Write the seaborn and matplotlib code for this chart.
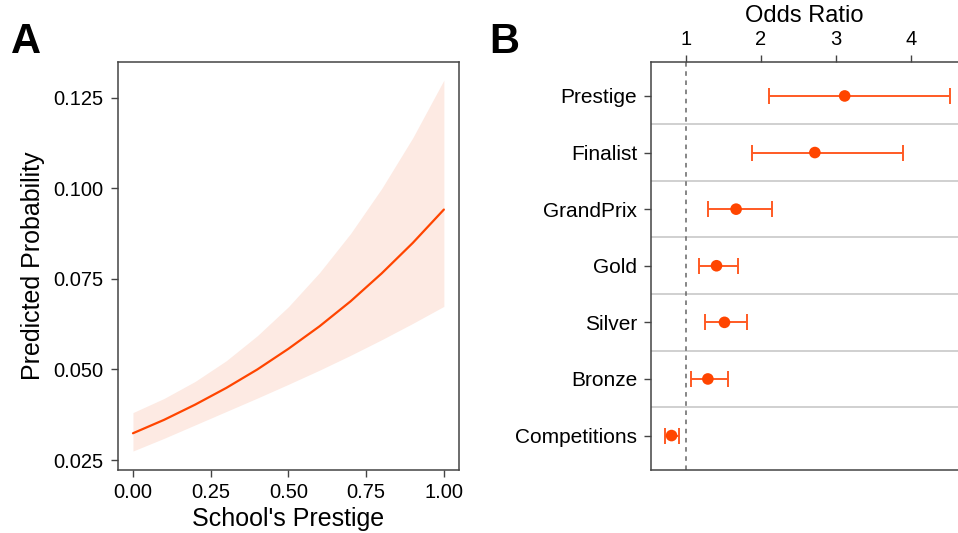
import numpy as np
import pandas as pd
import matplotlib
matplotlib.use("Agg")
import matplotlib.pyplot as plt
import seaborn as sns

# Panel A: predicted probability across school prestige, with confidence band
prestige = [0.0, 0.1, 0.2, 0.3, 0.4, 0.5, 0.6, 0.7, 0.8, 0.9, 1.0]
prob_fit = [0.0324, 0.0361, 0.0403, 0.0449, 0.0500, 0.0557, 0.0619, 0.0688, 0.0765, 0.0849, 0.0941]
prob_low = [0.0275, 0.0310, 0.0347, 0.0384, 0.0421, 0.0459, 0.0498, 0.0539, 0.0582, 0.0627, 0.0674]
prob_high = [0.0381, 0.0420, 0.0467, 0.0524, 0.0593, 0.0673, 0.0767, 0.0875, 0.0999, 0.1139, 0.1298]

# Panel B: odds ratios with confidence intervals
predictors = ["Prestige", "Finalist", "GrandPrix", "Gold", "Silver", "Bronze", "Competitions"]
odds_ratio = [3.117, 2.72, 1.671, 1.41, 1.516, 1.295, 0.811]
or_low = [2.108, 1.887, 1.295, 1.172, 1.261, 1.066, 0.718]
or_high = [4.52, 3.89, 2.147, 1.697, 1.811, 1.569, 0.911]

a_xticks = [0.0, 0.25, 0.5, 0.75, 1.0]
a_yticks = [0.025, 0.05, 0.075, 0.1, 0.125]
b_xticks = [1, 2, 3, 4]

sns.set_theme(style="white")
plt.rcParams["font.family"] = ["Liberation Sans", "DejaVu Sans"]
plt.rcParams["text.color"] = "black"
plt.rcParams["axes.labelcolor"] = "black"
plt.rcParams["xtick.labelcolor"] = "black"
plt.rcParams["ytick.labelcolor"] = "black"

LINE = "#FF4500"
BAND = "#FDEAE3"
SPINE = "#444444"

fig = plt.figure(figsize=(9.58, 5.33), dpi=100)
axA = fig.add_axes([0.1229, 0.1191, 0.4794 - 0.1229, 0.8837 - 0.1191])
axB = fig.add_axes([0.6795, 0.1191, 0.9999 - 0.6795, 0.8837 - 0.1191])

# ---- Panel A ----
dfA = pd.DataFrame({"prestige": prestige, "fit": prob_fit, "low": prob_low, "high": prob_high})
axA.fill_between(dfA["prestige"], dfA["low"], dfA["high"], color=BAND, lw=0)
sns.lineplot(data=dfA, x="prestige", y="fit", ax=axA, color=LINE, lw=1.6)
axA.set_xlim(-0.049, 1.0495)
axA.set_ylim(0.0224, 0.1348)
axA.set_xticks(a_xticks)
axA.set_xticklabels([f"{v:.2f}" for v in a_xticks])
axA.set_yticks(a_yticks)
axA.set_yticklabels([f"{v:.3f}" for v in a_yticks])
axA.set_xlabel("School's Prestige", fontsize=18, labelpad=3)
axA.set_ylabel("Predicted Probability", fontsize=18, labelpad=6)
axA.tick_params(axis="both", which="major", direction="out", length=5, width=1,
                color=SPINE, labelsize=14.5, pad=5, left=True, bottom=True)
for s in axA.spines.values():
    s.set_color(SPINE)
    s.set_linewidth(1.1)

# ---- Panel B ----
ypos = np.arange(len(predictors))
dfB = pd.DataFrame({"predictor": predictors, "or": odds_ratio, "lo": or_low, "hi": or_high, "y": ypos})
for k in range(len(predictors) - 1):
    axB.axhline(k + 0.5, color="#C4C4C4", lw=1.1, zorder=0)
axB.axvline(1, color="#666666", lw=1.1, ls=(0, (3, 3)), zorder=1)
axB.errorbar(dfB["or"], dfB["y"],
             xerr=[dfB["or"] - dfB["lo"], dfB["hi"] - dfB["or"]],
             fmt="none", ecolor="#FF5A24", elinewidth=1.4, capsize=5.5, capthick=1.4, zorder=2)
sns.scatterplot(data=dfB, x="or", y="y", ax=axB, color=LINE, s=70,
                edgecolor="none", zorder=3, legend=False)
axB.set_xlim(0.537, 4.625)
axB.set_ylim(len(predictors) - 1 + 0.6, -0.6)
axB.set_yticks(ypos)
axB.set_yticklabels(predictors)
axB.set_xticks(b_xticks)
axB.set_xticklabels([str(v) for v in b_xticks])
axB.xaxis.tick_top()
axB.xaxis.set_label_position("top")
axB.set_xlabel("Odds Ratio", fontsize=17, labelpad=6)
axB.set_ylabel("")
axB.tick_params(axis="x", which="major", direction="out", length=5, width=1,
                color=SPINE, labelsize=14.5, pad=4, top=True, bottom=False)
axB.tick_params(axis="y", which="major", direction="out", length=5, width=1,
                color=SPINE, labelsize=15, pad=5, left=True)
axB.spines["right"].set_visible(False)
for name in ["left", "top", "bottom"]:
    axB.spines[name].set_color(SPINE)
    axB.spines[name].set_linewidth(1.1)

fig.text(0.011, 0.90, "A", fontsize=30, fontweight="bold", ha="left", va="baseline")
fig.text(0.511, 0.90, "B", fontsize=30, fontweight="bold", ha="left", va="baseline")

fig.savefig("out.png", dpi=100)
